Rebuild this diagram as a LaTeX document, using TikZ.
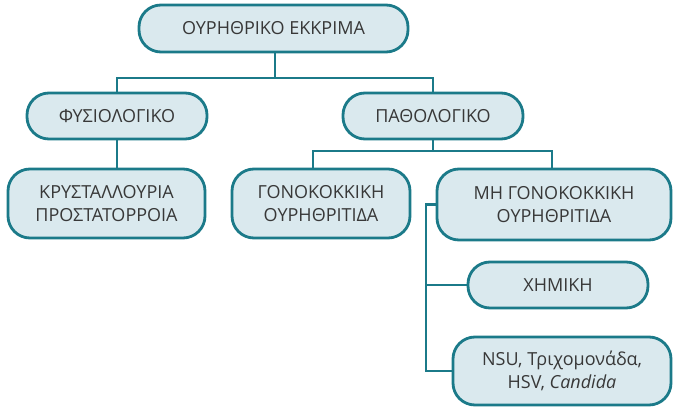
\documentclass[tikz,border=0pt]{standalone}
\usepackage{fontspec}
\setmainfont{Open Sans}
\usetikzlibrary{backgrounds}
\definecolor{tealline}{HTML}{1B7A89}
\definecolor{boxfill}{HTML}{DAE9EE}
\definecolor{txt}{HTML}{383838}
\begin{document}
\begin{tikzpicture}[x=1pt,y=-1pt,
  box/.style={draw=tealline,fill=boxfill,line width=2.8pt,rounded corners=22pt,
    text=txt,align=center,inner sep=0pt,
    font=\fontsize{18}{23}\selectfont},
  conn/.style={draw=tealline,line width=2.6pt}]
\useasboundingbox (0,0) rectangle (673,407);

% boxes
\node[box,minimum width=269pt,minimum height=47pt] (top) at (273.5,28.5) {ΟΥΡΗΘΡΙΚΟ ΕΚΚΡΙΜΑ};
\node[box,minimum width=180pt,minimum height=46pt] (fys) at (117,116) {ΦΥΣΙΟΛΟΓΙΚΟ};
\node[box,minimum width=180pt,minimum height=46pt] (path) at (433,116) {ΠΑΘΟΛΟΓΙΚΟ};
\node[box,minimum width=197pt,minimum height=69pt] (kry) at (106.5,203.5) {ΚΡΥΣΤΑΛΛΟΥΡΙΑ\\ΠΡΟΣΤΑΤΟΡΡΟΙΑ};
\node[box,minimum width=178pt,minimum height=69pt] (gon) at (321,203.5) {ΓΟΝΟΚΟΚΚΙΚΗ\\ΟΥΡΗΘΡΙΤΙΔΑ};
\node[box,minimum width=234pt,minimum height=71pt] (mh) at (554,204.5) {ΜΗ ΓΟΝΟΚΟΚΚΙΚΗ\\ΟΥΡΗΘΡΙΤΙΔΑ};
\node[box,minimum width=180pt,minimum height=46pt] (xim) at (558,285) {ΧΗΜΙΚΗ};
\node[box,minimum width=218pt,minimum height=68pt] (nsu) at (562,371) {NSU, Τριχομονάδα,\\HSV, \textit{Candida}};

% junction points
\coordinate (bus1) at (275,78);
\coordinate (bus2) at (433,151);
\coordinate (spine) at (426,204.5);

\begin{scope}[on background layer]
  \draw[conn] (top.south -| bus1) -- (bus1);
  \draw[conn] (fys.north) |- (bus1) -| (path.north);
  \draw[conn] (fys.south) -- (fys.south |- kry.north);
  \draw[conn] (path.south) -- (bus2);
  \draw[conn] ([xshift=-8pt]gon.north) |- (bus2) -| ([xshift=-2pt]mh.north);
  \draw[conn] (mh.west) -- (spine) -- (spine |- nsu.west) -- (nsu.west);
  \draw[conn] (spine |- xim.west) -- (xim.west);
\end{scope}
\end{tikzpicture}
\end{document}
